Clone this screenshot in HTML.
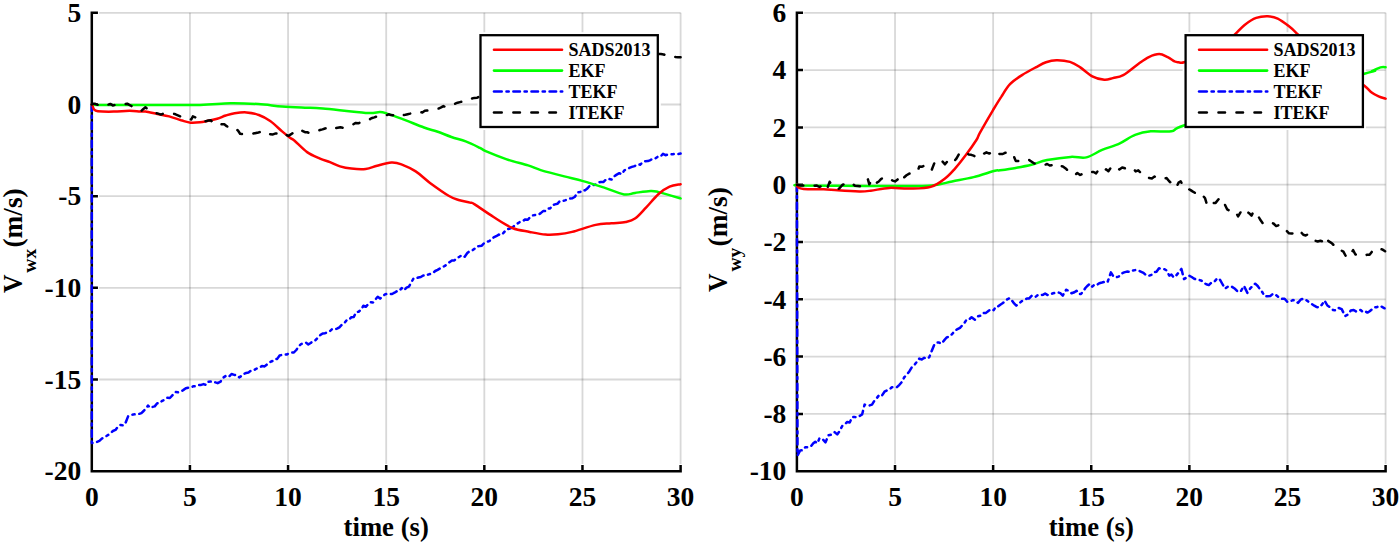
<!DOCTYPE html>
<html><head><meta charset="utf-8"><style>
html,body{margin:0;padding:0;background:#fff;width:1400px;height:543px;overflow:hidden}
svg{display:block}
</style></head><body>
<svg width="1400" height="543" viewBox="0 0 1400 543">
<rect width="1400" height="543" fill="#fff"/>
<path d="M189.93 12.80V463.90" stroke="#262626" stroke-opacity="0.18" stroke-width="1.8" fill="none"/>
<path d="M288.07 12.80V463.90" stroke="#262626" stroke-opacity="0.18" stroke-width="1.8" fill="none"/>
<path d="M386.20 12.80V463.90" stroke="#262626" stroke-opacity="0.18" stroke-width="1.8" fill="none"/>
<path d="M484.33 12.80V463.90" stroke="#262626" stroke-opacity="0.18" stroke-width="1.8" fill="none"/>
<path d="M582.47 12.80V463.90" stroke="#262626" stroke-opacity="0.18" stroke-width="1.8" fill="none"/>
<path d="M680.60 12.80V463.90" stroke="#262626" stroke-opacity="0.18" stroke-width="1.8" fill="none"/>
<path d="M99.10 379.52H680.60" stroke="#262626" stroke-opacity="0.18" stroke-width="1.8" fill="none"/>
<path d="M99.10 287.84H680.60" stroke="#262626" stroke-opacity="0.18" stroke-width="1.8" fill="none"/>
<path d="M99.10 196.16H680.60" stroke="#262626" stroke-opacity="0.18" stroke-width="1.8" fill="none"/>
<path d="M99.10 104.48H680.60" stroke="#262626" stroke-opacity="0.18" stroke-width="1.8" fill="none"/>
<path d="M99.10 12.80H680.60" stroke="#262626" stroke-opacity="0.18" stroke-width="1.8" fill="none"/>
<rect x="477.50" y="32.20" width="183.30" height="97.80" fill="#fff"/>
<path d="M91.80 12.80V471.20H680.60M91.80 471.20v-4.9M189.93 471.20v-4.9M288.07 471.20v-4.9M386.20 471.20v-4.9M484.33 471.20v-4.9M582.47 471.20v-4.9M680.60 471.20v-4.9M91.80 471.20h4.9M91.80 379.52h4.9M91.80 287.84h4.9M91.80 196.16h4.9M91.80 104.48h4.9M91.80 12.80h4.9" stroke="#000" stroke-width="2.5" fill="none" stroke-linejoin="miter" stroke-linecap="square"/>
<path d="M91.8,104.5 91.8,443.0 92.5,442.9 94.5,442.5 96.6,442.1 99.4,440.9 102.1,438.4 104.9,437.1 107.6,435.3 110.2,433.6 112.9,431.0 115.5,429.9 118.2,426.3 120.4,425.0 122.6,425.3 124.8,424.7 128.1,416.4 130.8,415.1 133.4,414.4 136.1,414.3 138.7,414.0 141.4,413.1 143.6,411.0 145.8,408.6 148.0,405.6 150.2,407.9 152.5,406.9 154.7,406.4 157.2,403.3 159.6,403.3 162.1,400.9 164.6,399.8 167.3,397.8 169.9,398.0 172.6,395.1 175.2,392.0 177.9,392.3 180.5,391.6 183.2,390.1 185.8,388.3 188.5,387.6 191.1,387.4 193.6,386.2 196.1,386.1 198.6,385.1 201.1,384.9 203.6,384.1 206.1,384.9 208.5,381.7 211.0,381.6 213.2,381.4 215.5,382.4 217.7,383.2 220.5,381.7 223.2,377.6 226.0,375.8 228.8,376.8 231.5,374.0 234.3,374.9 236.8,375.2 239.2,377.4 241.5,376.0 243.8,374.0 246.2,372.9 248.5,372.5 250.8,370.8 253.6,370.4 256.3,368.7 259.1,367.5 261.9,366.1 264.6,366.4 267.4,364.1 270.0,362.1 272.4,361.0 274.8,359.0 277.2,358.9 279.6,355.5 282.0,354.9 284.4,354.6 286.8,354.5 289.1,353.4 291.5,352.5 293.9,352.5 296.3,350.0 298.7,346.4 301.1,344.1 303.5,343.3 305.9,342.6 308.3,344.4 310.7,343.0 313.1,340.6 315.5,340.2 317.9,337.6 320.3,335.1 322.7,333.4 325.1,333.2 327.5,332.0 329.9,331.1 332.2,329.0 334.6,329.5 337.0,328.6 339.4,327.3 341.8,324.8 344.2,323.2 346.6,320.2 349.0,319.9 351.4,317.2 353.8,316.9 356.2,312.1 358.6,311.8 361.0,309.7 363.4,305.7 365.8,306.8 368.2,304.2 370.6,302.2 373.0,302.5 375.4,299.5 377.7,296.8 380.1,298.6 382.5,296.3 384.9,294.4 387.3,293.7 389.7,294.0 392.1,294.0 394.5,292.7 396.9,291.2 399.3,290.9 401.7,288.0 404.1,290.3 406.5,287.6 408.9,286.7 411.2,282.6 413.6,278.3 416.0,278.3 418.4,277.5 420.8,277.0 423.2,275.5 425.6,275.9 428.0,274.6 430.4,273.9 432.8,273.2 435.2,271.0 437.6,269.9 440.0,268.5 442.4,267.2 444.8,266.0 447.1,264.1 449.5,262.2 451.9,260.5 454.3,260.5 456.7,258.0 459.4,256.8 462.0,255.1 464.7,256.8 467.3,253.0 470.0,250.8 472.4,250.4 474.7,248.6 477.0,246.4 479.4,246.1 481.8,245.7 484.1,243.1 486.5,241.8 488.9,241.2 491.2,239.8 493.6,237.4 496.2,236.2 498.8,234.6 501.5,235.0 504.1,232.2 506.7,229.3 509.3,228.8 512.0,227.7 514.8,225.4 517.5,223.5 520.3,221.7 522.8,221.1 525.3,219.4 527.9,219.7 530.4,216.8 532.9,215.4 535.5,214.9 538.1,214.9 540.7,213.1 543.1,211.1 545.4,211.1 547.8,208.7 550.2,208.4 552.5,205.1 554.9,204.4 557.4,203.8 559.9,201.0 562.4,201.0 564.9,200.4 567.4,199.4 569.9,198.4 572.4,198.3 575.0,196.7 577.5,192.4 580.0,192.1 582.5,190.0 585.0,190.4 587.6,188.2 590.1,185.2 592.6,185.0 595.4,184.7 598.1,182.4 600.9,181.9 603.6,181.9 606.2,179.3 608.8,178.8 611.5,179.6 614.1,176.4 616.7,174.6 619.3,173.2 621.8,174.2 624.3,170.3 626.9,169.3 629.4,167.9 631.9,166.9 634.6,166.1 637.4,164.3 640.1,164.7 642.9,162.2 645.4,161.2 647.9,161.1 650.4,160.1 652.9,158.3 655.4,158.3 657.9,156.6 660.4,156.7 663.0,153.9 665.5,155.2 668.0,154.4 670.5,154.3 673.0,154.2 675.6,153.9 678.1,154.1 680.6,153.6" stroke="#0000ff" stroke-width="2.5" fill="none" stroke-linejoin="round" stroke-linecap="round" stroke-dasharray="6.5 4.7 2.2 4.7"/>
<path d="M91.8,104.5C92.8,104.6 88.2,104.8 97.9,104.9C107.6,105.0 133.0,104.9 150.0,104.9C167.0,104.9 186.6,105.2 200.0,104.9C213.4,104.6 220.9,103.4 230.6,103.3C240.3,103.2 249.7,103.6 258.3,104.1C266.9,104.6 274.3,105.9 282.1,106.5C289.9,107.1 298.2,107.4 305.0,107.7C311.8,108.0 312.8,107.7 322.9,108.6C333.0,109.5 356.2,112.3 365.7,112.9C375.2,113.5 376.4,112.0 380.0,112.1C383.6,112.2 383.4,112.5 387.0,113.6C390.6,114.7 395.2,116.3 401.4,118.6C407.6,120.9 418.1,125.3 424.0,127.5C429.9,129.7 432.4,129.9 437.0,131.5C441.6,133.1 446.6,135.3 451.4,137.0C456.2,138.7 460.9,139.6 465.7,141.4C470.5,143.2 476.7,146.3 480.0,147.9C483.3,149.5 481.3,149.3 485.7,151.2C490.1,153.1 499.0,156.7 506.1,159.1C513.2,161.5 522.3,163.6 528.1,165.4C533.9,167.2 534.7,168.3 540.7,170.1C546.7,171.9 557.2,174.6 564.3,176.4C571.4,178.2 576.5,179.3 583.1,181.1C589.7,182.9 596.8,185.2 603.6,187.4C610.4,189.6 618.8,193.5 624.0,194.4C629.2,195.3 630.5,193.5 635.0,192.9C639.5,192.3 646.8,191.1 650.7,191.0C654.6,190.9 653.6,190.9 658.6,192.1C663.6,193.3 676.9,197.3 680.6,198.4" stroke="#00ff00" stroke-width="2.5" fill="none" stroke-linejoin="round" stroke-linecap="round"/>
<path d="M91.8,104.5C91.9,104.6 92.0,104.5 92.4,105.3C92.8,106.1 93.1,108.3 94.0,109.3C94.9,110.3 94.6,110.8 97.9,111.2C101.2,111.6 108.5,111.7 113.8,111.6C119.1,111.5 125.2,110.8 129.6,110.8C134.0,110.8 137.4,111.3 140.0,111.4C142.6,111.5 142.5,111.2 145.4,111.6C148.3,112.0 153.3,113.2 157.3,114.0C161.3,114.8 165.2,115.4 169.2,116.4C173.2,117.5 177.5,119.2 181.1,120.3C184.7,121.3 187.4,122.4 190.6,122.7C193.8,123.0 197.3,122.6 200.0,122.3C202.7,122.0 204.1,121.6 207.0,121.0C209.9,120.4 214.1,119.7 217.2,118.8C220.3,117.9 222.8,116.4 225.7,115.5C228.6,114.6 231.1,113.7 234.6,113.2C238.1,112.7 242.6,112.1 246.5,112.4C250.4,112.7 254.4,113.3 258.3,114.8C262.2,116.2 266.2,118.3 270.2,121.1C274.2,123.9 278.8,128.6 282.1,131.4C285.4,134.2 288.0,136.3 290.0,137.8C292.0,139.3 291.4,138.1 294.3,140.5C297.2,142.9 302.8,149.1 307.1,152.1C311.4,155.1 316.2,156.9 320.0,158.6C323.8,160.3 326.7,160.8 330.0,162.1C333.3,163.4 336.4,165.3 340.0,166.4C343.6,167.5 347.1,168.2 351.4,168.6C355.7,169.0 361.4,169.4 365.7,168.9C370.0,168.4 372.8,166.8 377.1,165.7C381.4,164.6 387.3,162.8 391.4,162.6C395.4,162.4 397.3,162.8 401.4,164.3C405.4,165.8 410.9,168.3 415.7,171.4C420.5,174.5 424.5,178.9 430.0,182.9C435.5,186.9 443.8,192.8 448.6,195.7C453.4,198.5 455.0,198.8 458.6,200.0C462.2,201.2 467.3,201.9 470.0,202.6C472.7,203.3 470.8,202.0 474.7,204.4C478.6,206.8 487.3,213.1 493.6,217.0C499.9,220.9 506.4,225.5 512.4,228.0C518.4,230.5 524.2,230.8 529.7,231.9C535.2,233.0 540.7,234.2 545.4,234.6C550.1,235.0 553.5,234.8 558.0,234.3C562.5,233.9 565.8,233.5 572.1,231.9C578.4,230.3 589.2,226.3 595.7,224.9C602.2,223.5 606.4,223.8 611.4,223.3C616.4,222.8 621.7,222.8 625.6,222.0C629.5,221.2 631.6,221.0 635.0,218.6C638.4,216.2 642.1,211.7 646.0,207.6C649.9,203.5 654.7,197.5 658.6,194.0C662.5,190.5 665.9,188.2 669.6,186.6C673.3,185.0 678.8,184.6 680.6,184.2" stroke="#ff0000" stroke-width="2.5" fill="none" stroke-linejoin="round" stroke-linecap="round"/>
<path d="M91.8,104.5 92.4,103.7 95.2,103.8 97.9,104.9 100.4,104.4 102.9,105.2 105.3,103.9 107.8,104.8 110.3,103.9 112.8,105.4 115.2,105.0 117.7,104.9 120.1,105.2 122.5,104.1 124.8,104.2 127.2,103.7 129.3,104.9 131.4,106.0 133.5,107.7 136.2,108.8 138.8,109.2 141.5,110.8 143.4,108.9 145.4,107.3 148.0,109.4 150.7,111.0 153.3,112.8 155.7,113.0 158.1,113.6 160.9,114.6 163.6,113.6 166.4,113.3 169.2,113.6 171.1,113.7 173.1,113.6 175.5,114.3 177.9,115.3 180.3,116.4 183.1,117.0 185.8,118.9 188.6,118.7 191.3,119.5 192.9,116.4 195.2,117.3 197.5,118.3 199.8,118.8 202.2,121.1 204.5,121.5 206.6,121.0 208.7,120.4 210.8,120.3 213.6,123.6 216.4,124.7 219.0,123.9 221.7,124.3 224.3,124.3 226.7,126.2 229.0,127.5 231.1,129.0 233.3,128.1 235.4,129.0 237.8,130.3 240.1,133.8 242.7,134.1 245.2,133.6 247.8,133.6 250.4,133.8 253.2,133.6 256.0,133.0 258.4,132.5 260.7,131.8 263.1,134.2 265.5,134.3 267.8,134.0 270.2,134.2 273.0,134.4 275.8,133.4 277.9,133.7 280.0,132.6 282.1,132.2 284.2,133.2 286.3,134.9 288.4,135.8 291.2,134.2 294.0,132.2 296.3,129.8 299.1,129.7 301.9,130.6 305.0,132.2 307.1,132.2 309.3,133.1 311.4,132.9 314.3,131.9 317.1,130.8 320.0,130.0 322.5,129.4 325.0,128.5 327.5,127.8 330.0,127.1 332.6,126.4 335.2,128.2 337.7,127.7 340.3,127.3 342.9,127.9 345.5,127.3 348.0,126.0 350.6,124.9 353.1,124.4 355.7,122.9 358.3,123.3 360.9,122.0 363.4,121.9 366.0,121.6 368.6,120.0 371.4,118.3 374.3,117.4 377.1,116.4 379.4,116.3 381.7,114.8 384.0,115.0 386.3,115.3 388.6,114.3 391.1,115.1 393.6,115.3 396.1,114.5 398.6,115.7 400.9,116.3 403.2,115.1 405.4,114.8 407.7,114.2 410.0,113.6 412.5,112.5 415.0,112.2 417.5,111.9 420.0,112.1 422.4,112.5 424.8,110.8 427.1,110.6 429.5,110.1 431.9,110.0 434.3,109.3 436.6,109.1 438.9,108.5 441.1,107.4 443.4,106.1 445.7,107.1 448.1,106.3 450.5,105.6 452.9,105.2 455.2,103.7 457.6,102.7 460.0,102.1 462.3,101.6 464.6,100.0 466.8,99.5 469.1,98.8 471.4,98.6 474.3,97.9 477.1,97.8 480.0,96.0 482.5,95.8 485.0,95.5 487.5,94.6 490.0,94.1 492.5,93.3 495.0,92.9 497.5,91.4 500.0,91.5 502.5,90.9 505.0,91.4 507.5,90.8 510.0,90.5 512.5,90.2 515.0,88.9 517.5,89.0 520.0,88.9 522.5,87.5 525.0,87.5 527.5,86.4 530.0,85.3 532.5,85.6 535.0,84.6 537.5,84.5 540.0,83.8 542.5,83.6 545.0,82.0 547.5,83.4 550.0,82.6 552.5,81.3 555.0,80.6 557.5,80.5 560.0,80.0 562.5,79.6 565.0,78.9 567.5,78.2 570.1,76.4 572.6,76.2 575.1,76.6 577.6,75.4 580.1,74.0 582.6,73.6 585.1,72.7 587.6,72.2 590.2,72.5 592.7,71.2 595.2,71.2 597.7,70.1 600.2,68.6 602.7,68.4 605.2,69.0 607.7,67.0 610.3,66.2 612.8,66.6 615.3,65.4 617.8,64.7 620.3,64.7 622.8,62.5 625.3,62.9 627.8,61.5 630.4,60.7 632.9,60.3 635.4,60.5 637.9,59.3 640.4,57.8 642.9,57.5 645.4,58.0 647.9,57.1 650.5,55.5 653.0,56.4 655.5,54.5 658.0,54.0 660.9,54.1 663.6,54.4 666.4,55.7 668.5,55.6 670.6,56.1 672.7,55.7 675.3,57.0 678.0,57.2 680.6,57.3" stroke="#000000" stroke-width="2.5" fill="none" stroke-linejoin="round" stroke-linecap="round" stroke-dasharray="6.5 11.5"/>
<text x="91.80" y="505.70" text-anchor="middle" font-family="Liberation Serif" font-weight="bold" font-size="27.5">0</text>
<text x="189.93" y="505.70" text-anchor="middle" font-family="Liberation Serif" font-weight="bold" font-size="27.5">5</text>
<text x="288.07" y="505.70" text-anchor="middle" font-family="Liberation Serif" font-weight="bold" font-size="27.5">10</text>
<text x="386.20" y="505.70" text-anchor="middle" font-family="Liberation Serif" font-weight="bold" font-size="27.5">15</text>
<text x="484.33" y="505.70" text-anchor="middle" font-family="Liberation Serif" font-weight="bold" font-size="27.5">20</text>
<text x="582.47" y="505.70" text-anchor="middle" font-family="Liberation Serif" font-weight="bold" font-size="27.5">25</text>
<text x="680.60" y="505.70" text-anchor="middle" font-family="Liberation Serif" font-weight="bold" font-size="27.5">30</text>
<text x="81.20" y="480.40" text-anchor="end" font-family="Liberation Serif" font-weight="bold" font-size="27.5">-20</text>
<text x="81.20" y="388.72" text-anchor="end" font-family="Liberation Serif" font-weight="bold" font-size="27.5">-15</text>
<text x="81.20" y="297.04" text-anchor="end" font-family="Liberation Serif" font-weight="bold" font-size="27.5">-10</text>
<text x="81.20" y="205.36" text-anchor="end" font-family="Liberation Serif" font-weight="bold" font-size="27.5">-5</text>
<text x="81.20" y="113.68" text-anchor="end" font-family="Liberation Serif" font-weight="bold" font-size="27.5">0</text>
<text x="81.20" y="22.00" text-anchor="end" font-family="Liberation Serif" font-weight="bold" font-size="27.5">5</text>
<text x="386.20" y="535.7" text-anchor="middle" font-family="Liberation Serif" font-weight="bold" font-size="26.7">time (s)</text>
<g transform="translate(21.5,293) rotate(-90)" font-family="Liberation Serif" font-weight="bold"><text x="0" y="0" font-size="27" textLength="18.6" lengthAdjust="spacingAndGlyphs">V</text><text x="20.3" y="14" font-size="19.5">wx</text><text x="45.5" y="0" font-size="27.3">(m/s)</text></g>
<rect x="480.50" y="35.20" width="177.30" height="91.80" fill="#fff" stroke="#000" stroke-width="2.3"/>
<path d="M494.00 49.7H562.00" stroke="#ff0000" stroke-width="2.6" stroke-linecap="round" fill="none"/>
<text x="568.50" y="55.90" font-family="Liberation Serif" font-weight="bold" font-size="18">SADS2013</text>
<path d="M494.00 70.6H562.00" stroke="#00ff00" stroke-width="2.6" stroke-linecap="round" fill="none"/>
<text x="568.50" y="76.80" font-family="Liberation Serif" font-weight="bold" font-size="18">EKF</text>
<path d="M494.00 91.5H501.70" stroke="#0000ff" stroke-width="2.6" stroke-linecap="round" fill="none"/>
<path d="M506.50 91.5H562.20" stroke="#0000ff" stroke-width="2.6" stroke-linecap="round" stroke-dasharray="2.2 4.7 6.5 4.7" fill="none"/>
<text x="568.50" y="97.70" font-family="Liberation Serif" font-weight="bold" font-size="18">TEKF</text>
<path d="M494.00 112.5H501.70" stroke="#000000" stroke-width="2.6" stroke-linecap="round" fill="none"/>
<path d="M513.40 112.5H562.20" stroke="#000000" stroke-width="2.6" stroke-linecap="round" stroke-dasharray="6.5 11.5" fill="none"/>
<text x="568.50" y="118.70" font-family="Liberation Serif" font-weight="bold" font-size="18">ITEKF</text>
<path d="M895.02 12.80V463.90" stroke="#262626" stroke-opacity="0.18" stroke-width="1.8" fill="none"/>
<path d="M993.13 12.80V463.90" stroke="#262626" stroke-opacity="0.18" stroke-width="1.8" fill="none"/>
<path d="M1091.25 12.80V463.90" stroke="#262626" stroke-opacity="0.18" stroke-width="1.8" fill="none"/>
<path d="M1189.37 12.80V463.90" stroke="#262626" stroke-opacity="0.18" stroke-width="1.8" fill="none"/>
<path d="M1287.48 12.80V463.90" stroke="#262626" stroke-opacity="0.18" stroke-width="1.8" fill="none"/>
<path d="M1385.60 12.80V463.90" stroke="#262626" stroke-opacity="0.18" stroke-width="1.8" fill="none"/>
<path d="M804.20 413.90H1385.60" stroke="#262626" stroke-opacity="0.18" stroke-width="1.8" fill="none"/>
<path d="M804.20 356.60H1385.60" stroke="#262626" stroke-opacity="0.18" stroke-width="1.8" fill="none"/>
<path d="M804.20 299.30H1385.60" stroke="#262626" stroke-opacity="0.18" stroke-width="1.8" fill="none"/>
<path d="M804.20 242.00H1385.60" stroke="#262626" stroke-opacity="0.18" stroke-width="1.8" fill="none"/>
<path d="M804.20 184.70H1385.60" stroke="#262626" stroke-opacity="0.18" stroke-width="1.8" fill="none"/>
<path d="M804.20 127.40H1385.60" stroke="#262626" stroke-opacity="0.18" stroke-width="1.8" fill="none"/>
<path d="M804.20 70.10H1385.60" stroke="#262626" stroke-opacity="0.18" stroke-width="1.8" fill="none"/>
<path d="M804.20 12.80H1385.60" stroke="#262626" stroke-opacity="0.18" stroke-width="1.8" fill="none"/>
<rect x="1182.60" y="32.20" width="183.30" height="97.80" fill="#fff"/>
<path d="M796.90 12.80V471.20H1385.60M796.90 471.20v-4.9M895.02 471.20v-4.9M993.13 471.20v-4.9M1091.25 471.20v-4.9M1189.37 471.20v-4.9M1287.48 471.20v-4.9M1385.60 471.20v-4.9M796.90 471.20h4.9M796.90 413.90h4.9M796.90 356.60h4.9M796.90 299.30h4.9M796.90 242.00h4.9M796.90 184.70h4.9M796.90 127.40h4.9M796.90 70.10h4.9M796.90 12.80h4.9" stroke="#000" stroke-width="2.5" fill="none" stroke-linejoin="miter" stroke-linecap="square"/>
<path d="M796.9,184.7 797.5,455.5 800.2,450.4 802.7,450.3 805.2,447.3 808.3,447.3 810.8,446.5 813.3,443.3 815.3,441.7 817.4,443.3 819.4,438.4 821.4,438.2 823.5,440.1 825.5,442.3 828.5,435.2 831.5,434.6 834.6,432.1 837.2,434.4 839.7,430.9 842.2,426.0 844.7,424.5 847.2,422.0 849.7,422.5 852.1,417.2 854.6,417.0 857.1,417.4 859.6,416.0 862.1,414.5 864.6,404.6 867.1,405.2 869.5,405.5 872.0,404.6 874.5,400.6 877.0,397.8 879.5,394.6 882.0,395.5 884.5,391.7 886.9,390.4 889.4,389.7 891.9,387.2 894.4,387.5 896.9,387.2 899.4,384.8 901.8,382.0 904.3,377.2 906.8,374.7 909.3,371.4 911.8,367.3 914.3,365.1 916.8,361.9 919.3,358.6 921.8,359.5 924.2,357.8 926.7,358.9 929.2,357.3 931.7,351.0 934.2,344.9 936.7,342.6 939.1,342.6 941.6,343.7 944.1,340.4 946.6,337.5 950.0,336.2 952.5,333.6 955.0,330.6 957.5,329.1 960.0,327.9 962.2,325.4 964.4,322.9 966.6,319.7 969.1,319.5 971.6,317.2 974.9,319.7 977.7,316.4 980.4,315.7 983.2,313.0 986.0,312.9 988.7,310.7 991.5,308.9 993.7,310.2 995.9,306.7 998.1,306.4 1000.3,304.7 1002.5,303.3 1004.7,301.4 1007.2,299.3 1009.7,298.1 1011.9,300.5 1014.1,303.4 1016.3,305.6 1019.1,303.6 1021.8,301.1 1024.6,299.8 1026.9,298.6 1029.2,298.4 1031.6,295.9 1033.9,297.3 1036.2,296.4 1038.4,294.6 1040.7,295.0 1042.9,294.8 1045.1,293.5 1047.3,294.9 1049.5,294.8 1052.3,293.5 1055.0,292.8 1057.8,292.3 1060.3,293.1 1062.8,295.6 1066.1,289.8 1068.9,290.8 1071.6,293.3 1074.4,292.3 1076.6,290.7 1078.8,294.0 1081.0,293.9 1083.2,291.4 1085.4,288.0 1087.6,285.7 1089.9,283.7 1092.3,286.6 1094.6,284.4 1097.0,284.9 1099.3,283.2 1102.0,282.5 1104.8,281.7 1107.5,282.3 1110.9,272.4 1113.3,276.2 1115.8,277.4 1118.6,276.6 1121.3,273.7 1124.1,272.4 1126.9,271.6 1129.6,272.0 1132.4,270.7 1135.2,270.1 1137.9,270.3 1140.7,271.6 1143.5,272.9 1146.2,275.5 1149.0,275.7 1151.5,274.8 1154.0,272.2 1156.5,271.7 1159.0,268.2 1161.6,268.8 1164.3,269.2 1166.9,270.6 1169.2,275.6 1171.4,274.6 1173.7,277.4 1176.3,275.3 1178.8,272.4 1181.4,268.9 1184.0,279.1 1186.5,277.5 1189.1,275.7 1191.7,277.0 1194.2,278.7 1196.8,279.6 1199.4,280.0 1201.7,280.8 1204.0,282.9 1206.3,284.3 1208.8,285.1 1211.4,282.6 1214.0,282.0 1216.5,279.2 1219.1,278.3 1222.1,283.5 1225.1,288.6 1227.4,286.9 1229.7,286.0 1232.0,286.9 1235.0,288.8 1238.0,292.0 1241.0,290.9 1244.0,286.0 1247.4,292.9 1250.0,288.7 1252.6,286.0 1255.2,283.7 1257.7,286.0 1260.0,289.3 1262.3,292.1 1264.6,296.3 1267.4,296.3 1270.3,296.0 1273.1,293.7 1276.0,295.1 1278.8,297.3 1281.7,298.9 1284.6,298.7 1287.4,302.0 1290.3,301.4 1292.9,300.1 1295.4,300.6 1298.0,302.9 1300.6,299.7 1303.2,298.6 1305.7,299.7 1308.6,301.9 1311.4,303.7 1314.3,305.7 1316.8,307.1 1319.4,307.4 1322.0,304.6 1324.6,300.6 1327.4,305.5 1330.3,307.5 1333.1,310.0 1336.0,310.4 1338.8,308.0 1341.7,309.1 1345.1,316.0 1348.0,314.5 1350.8,310.5 1353.7,310.0 1356.0,311.4 1358.3,310.0 1360.6,310.0 1362.9,312.0 1365.1,311.2 1367.4,312.6 1369.7,311.2 1372.0,309.3 1374.3,307.4 1376.8,307.2 1379.4,305.7 1382.0,306.9 1384.6,308.3" stroke="#0000ff" stroke-width="2.5" fill="none" stroke-linejoin="round" stroke-linecap="round" stroke-dasharray="6.5 4.7 2.2 4.7"/>
<path d="M796.9,184.7C797.1,184.8 790.7,185.2 797.9,185.4C805.1,185.6 823.8,185.7 840.0,185.8C856.2,185.9 879.6,186.1 895.0,186.0C910.4,185.9 922.6,186.2 932.1,185.4C941.6,184.6 945.2,182.8 952.1,181.4C959.0,180.0 966.5,178.9 973.6,177.1C980.8,175.3 990.6,171.8 995.0,170.7C999.4,169.6 996.5,170.8 1000.0,170.3C1003.5,169.8 1010.5,168.8 1015.7,167.9C1020.9,167.0 1026.2,166.1 1031.4,164.8C1036.6,163.5 1040.5,161.4 1047.1,160.1C1053.6,158.8 1064.2,157.3 1070.7,156.9C1077.2,156.5 1081.2,158.6 1086.4,157.4C1091.6,156.2 1096.6,152.2 1102.1,149.9C1107.6,147.6 1113.9,146.1 1119.4,143.6C1124.9,141.1 1129.9,136.9 1135.1,134.9C1140.3,132.9 1144.8,131.9 1150.8,131.3C1156.8,130.7 1165.8,132.3 1171.3,131.3C1176.8,130.3 1170.7,129.9 1183.8,125.5C1196.9,121.1 1219.9,113.6 1250.0,105.0C1280.1,96.4 1344.0,79.5 1364.4,73.8C1384.8,68.1 1369.5,72.1 1372.2,71.0C1374.9,69.9 1378.3,68.0 1380.5,67.4C1382.7,66.8 1384.8,67.2 1385.6,67.2" stroke="#00ff00" stroke-width="2.5" fill="none" stroke-linejoin="round" stroke-linecap="round"/>
<path d="M796.9,184.7C797.1,185.1 796.8,186.4 797.9,187.1C799.0,187.8 799.3,188.5 803.6,188.9C807.9,189.3 817.9,189.1 823.6,189.3C829.3,189.5 832.0,190.0 837.9,190.3C843.8,190.7 853.8,191.3 859.3,191.4C864.8,191.5 865.7,191.3 870.7,190.7C875.7,190.1 882.9,188.2 889.3,187.9C895.7,187.6 902.4,188.8 909.3,188.6C916.2,188.4 924.8,188.6 930.7,186.9C936.7,185.2 941.0,181.7 945.0,178.6C949.0,175.5 951.4,172.6 955.0,168.6C958.6,164.6 962.8,159.1 966.4,154.3C970.0,149.5 974.1,143.6 976.4,140.0C978.7,136.4 977.2,137.5 980.0,132.6C982.8,127.6 989.3,116.3 992.9,110.3C996.5,104.3 998.5,100.9 1001.4,96.6C1004.2,92.2 1006.6,87.8 1010.0,84.2C1013.4,80.6 1017.7,77.9 1022.0,75.1C1026.3,72.3 1031.7,69.5 1035.7,67.4C1039.7,65.3 1042.6,63.5 1046.0,62.3C1049.4,61.1 1052.3,60.3 1056.3,60.2C1060.3,60.1 1066.0,60.7 1070.0,61.9C1074.0,63.1 1076.6,65.0 1080.3,67.4C1084.0,69.8 1088.3,74.2 1092.3,76.3C1096.3,78.4 1100.9,79.5 1104.3,79.8C1107.7,80.1 1109.8,78.9 1112.9,78.1C1116.1,77.3 1118.9,77.5 1123.2,75.1C1127.5,72.7 1134.3,66.7 1138.6,63.7C1142.9,60.7 1145.5,58.7 1148.9,57.1C1152.3,55.5 1156.1,54.1 1159.2,54.1C1162.3,54.1 1165.1,55.9 1167.7,57.1C1170.3,58.3 1172.8,60.5 1174.6,61.4C1176.4,62.2 1176.7,62.1 1178.3,62.2C1179.9,62.3 1180.5,63.4 1184.1,62.2C1187.7,61.0 1193.2,58.4 1200.0,55.0C1206.8,51.6 1219.2,45.4 1225.0,42.0C1230.8,38.6 1231.3,37.6 1234.6,34.8C1237.9,31.9 1241.0,27.7 1244.6,24.9C1248.2,22.1 1252.3,19.3 1256.2,17.9C1260.1,16.5 1264.2,16.2 1267.8,16.3C1271.4,16.4 1274.1,16.9 1277.7,18.6C1281.3,20.3 1285.8,23.8 1289.3,26.5C1292.8,29.2 1293.3,30.0 1298.4,34.8C1303.5,39.5 1312.2,48.8 1320.0,55.0C1327.8,61.2 1337.6,66.9 1345.0,72.0C1352.4,77.1 1360.0,82.4 1364.4,85.8C1368.8,89.2 1368.9,90.5 1371.3,92.2C1373.7,94.0 1376.2,95.2 1378.6,96.3C1381.0,97.4 1384.4,98.2 1385.6,98.6" stroke="#ff0000" stroke-width="2.5" fill="none" stroke-linejoin="round" stroke-linecap="round"/>
<path d="M796.9,184.7 797.9,185.0 800.8,185.4 803.6,185.4 806.2,185.4 808.9,185.4 811.5,184.8 814.2,185.8 816.8,185.6 819.5,187.0 822.1,185.7 824.6,184.5 827.1,188.8 829.6,181.8 832.1,185.7 834.2,187.6 836.4,189.3 839.3,188.5 842.1,185.2 845.0,183.6 847.1,182.2 849.3,182.6 852.2,183.7 855.0,185.7 857.9,186.0 860.0,186.3 862.1,183.6 865.0,179.5 867.9,179.3 869.3,184.3 872.9,178.6 876.4,182.9 878.8,181.5 881.2,178.8 883.6,177.9 885.8,179.5 887.9,178.6 890.3,178.9 892.6,180.6 895.0,181.4 897.9,179.2 900.7,174.3 903.6,177.9 906.5,175.3 909.3,173.6 912.2,172.9 915.0,170.6 917.9,170.7 919.3,166.4 922.2,166.7 925.0,165.4 927.9,168.6 931.4,170.7 935.0,161.4 937.1,159.2 939.3,159.3 942.1,161.1 945.0,164.3 947.9,160.7 950.7,159.0 953.6,161.9 956.4,158.6 958.9,154.2 961.4,152.9 963.9,154.5 966.4,152.9 968.8,154.5 971.2,154.8 973.6,155.7 976.0,156.8 978.3,157.7 980.7,155.0 983.6,153.8 986.4,152.3 989.3,153.6 992.1,151.8 995.0,150.7 997.8,153.8 1000.6,154.1 1002.8,154.0 1005.0,152.8 1007.2,153.0 1009.4,152.2 1011.5,155.3 1013.6,155.7 1015.7,160.9 1018.5,161.1 1021.2,159.4 1024.0,159.9 1026.7,160.1 1029.2,160.1 1031.7,161.7 1034.3,163.5 1036.8,162.9 1039.3,164.0 1041.9,164.1 1044.5,165.0 1047.1,164.0 1049.7,165.5 1052.4,165.1 1055.0,167.1 1057.6,167.8 1060.3,166.0 1062.9,166.4 1066.0,168.7 1069.1,171.9 1071.8,172.8 1074.6,175.2 1077.3,173.0 1080.1,175.0 1082.8,173.6 1085.6,173.5 1088.3,171.5 1091.1,171.9 1093.6,172.0 1096.1,173.4 1098.7,169.6 1101.2,171.8 1103.7,171.9 1106.0,169.3 1108.4,171.2 1110.8,167.8 1113.1,165.6 1115.2,167.6 1117.3,168.0 1119.4,169.5 1122.2,167.5 1124.9,168.3 1127.7,168.1 1130.4,167.1 1133.0,168.1 1135.7,171.4 1138.3,170.3 1141.0,173.1 1143.8,173.0 1146.5,175.6 1149.3,178.1 1151.9,178.4 1154.5,176.5 1157.1,178.1 1159.5,177.8 1161.8,177.2 1164.2,178.2 1166.6,178.1 1169.2,181.3 1171.8,183.6 1174.4,187.6 1176.5,187.0 1178.6,182.6 1180.7,181.3 1183.1,186.0 1185.4,189.1 1187.8,188.8 1190.2,189.9 1192.5,191.4 1194.9,192.8 1197.3,194.4 1199.9,196.6 1202.5,195.1 1205.1,198.3 1206.7,203.8 1208.8,205.5 1210.9,201.7 1213.0,203.0 1215.6,202.9 1218.3,199.5 1220.9,197.5 1224.0,202.7 1227.1,209.3 1229.7,210.8 1232.4,209.7 1235.0,210.9 1238.1,216.4 1240.5,212.4 1242.9,208.5 1246.0,210.9 1249.1,213.2 1251.5,215.6 1253.9,210.9 1257.0,213.9 1260.1,219.5 1262.7,223.1 1265.4,221.7 1268.0,223.4 1270.8,222.8 1273.5,223.5 1276.2,226.1 1279.0,225.0 1281.3,227.4 1283.7,230.5 1286.3,230.5 1289.0,233.3 1291.6,233.6 1293.9,233.5 1296.3,234.1 1298.7,231.0 1301.0,232.1 1303.3,234.8 1305.7,235.5 1308.1,234.1 1310.4,236.0 1312.8,237.9 1315.1,240.7 1317.7,241.5 1320.4,240.8 1323.0,241.5 1324.6,236.8 1326.9,239.8 1329.3,241.7 1331.7,243.1 1334.0,245.4 1336.3,245.5 1338.7,245.9 1341.1,250.4 1343.4,251.7 1346.3,257.0 1348.6,253.0 1350.8,253.7 1353.1,250.1 1355.4,254.5 1357.7,254.7 1360.0,254.8 1362.3,255.7 1364.6,256.2 1366.9,254.7 1369.6,254.7 1372.2,251.3 1374.9,251.9 1377.2,249.1 1379.4,249.0 1382.2,249.4 1385.1,251.3" stroke="#000000" stroke-width="2.5" fill="none" stroke-linejoin="round" stroke-linecap="round" stroke-dasharray="6.5 11.5"/>
<text x="796.90" y="505.70" text-anchor="middle" font-family="Liberation Serif" font-weight="bold" font-size="27.5">0</text>
<text x="895.02" y="505.70" text-anchor="middle" font-family="Liberation Serif" font-weight="bold" font-size="27.5">5</text>
<text x="993.13" y="505.70" text-anchor="middle" font-family="Liberation Serif" font-weight="bold" font-size="27.5">10</text>
<text x="1091.25" y="505.70" text-anchor="middle" font-family="Liberation Serif" font-weight="bold" font-size="27.5">15</text>
<text x="1189.37" y="505.70" text-anchor="middle" font-family="Liberation Serif" font-weight="bold" font-size="27.5">20</text>
<text x="1287.48" y="505.70" text-anchor="middle" font-family="Liberation Serif" font-weight="bold" font-size="27.5">25</text>
<text x="1385.60" y="505.70" text-anchor="middle" font-family="Liberation Serif" font-weight="bold" font-size="27.5">30</text>
<text x="786.30" y="480.40" text-anchor="end" font-family="Liberation Serif" font-weight="bold" font-size="27.5">-10</text>
<text x="786.30" y="423.10" text-anchor="end" font-family="Liberation Serif" font-weight="bold" font-size="27.5">-8</text>
<text x="786.30" y="365.80" text-anchor="end" font-family="Liberation Serif" font-weight="bold" font-size="27.5">-6</text>
<text x="786.30" y="308.50" text-anchor="end" font-family="Liberation Serif" font-weight="bold" font-size="27.5">-4</text>
<text x="786.30" y="251.20" text-anchor="end" font-family="Liberation Serif" font-weight="bold" font-size="27.5">-2</text>
<text x="786.30" y="193.90" text-anchor="end" font-family="Liberation Serif" font-weight="bold" font-size="27.5">0</text>
<text x="786.30" y="136.60" text-anchor="end" font-family="Liberation Serif" font-weight="bold" font-size="27.5">2</text>
<text x="786.30" y="79.30" text-anchor="end" font-family="Liberation Serif" font-weight="bold" font-size="27.5">4</text>
<text x="786.30" y="22.00" text-anchor="end" font-family="Liberation Serif" font-weight="bold" font-size="27.5">6</text>
<text x="1091.25" y="535.7" text-anchor="middle" font-family="Liberation Serif" font-weight="bold" font-size="26.7">time (s)</text>
<g transform="translate(726.5,291.9) rotate(-90)" font-family="Liberation Serif" font-weight="bold"><text x="0" y="0" font-size="27" textLength="18.6" lengthAdjust="spacingAndGlyphs">V</text><text x="20.3" y="14" font-size="19.5">wy</text><text x="45.5" y="0" font-size="27.3">(m/s)</text></g>
<rect x="1185.60" y="35.20" width="177.30" height="91.80" fill="#fff" stroke="#000" stroke-width="2.3"/>
<path d="M1199.10 49.7H1267.10" stroke="#ff0000" stroke-width="2.6" stroke-linecap="round" fill="none"/>
<text x="1273.60" y="55.90" font-family="Liberation Serif" font-weight="bold" font-size="18">SADS2013</text>
<path d="M1199.10 70.6H1267.10" stroke="#00ff00" stroke-width="2.6" stroke-linecap="round" fill="none"/>
<text x="1273.60" y="76.80" font-family="Liberation Serif" font-weight="bold" font-size="18">EKF</text>
<path d="M1199.10 91.5H1206.80" stroke="#0000ff" stroke-width="2.6" stroke-linecap="round" fill="none"/>
<path d="M1211.60 91.5H1267.30" stroke="#0000ff" stroke-width="2.6" stroke-linecap="round" stroke-dasharray="2.2 4.7 6.5 4.7" fill="none"/>
<text x="1273.60" y="97.70" font-family="Liberation Serif" font-weight="bold" font-size="18">TEKF</text>
<path d="M1199.10 112.5H1206.80" stroke="#000000" stroke-width="2.6" stroke-linecap="round" fill="none"/>
<path d="M1218.50 112.5H1267.30" stroke="#000000" stroke-width="2.6" stroke-linecap="round" stroke-dasharray="6.5 11.5" fill="none"/>
<text x="1273.60" y="118.70" font-family="Liberation Serif" font-weight="bold" font-size="18">ITEKF</text>
</svg>
</body></html>
